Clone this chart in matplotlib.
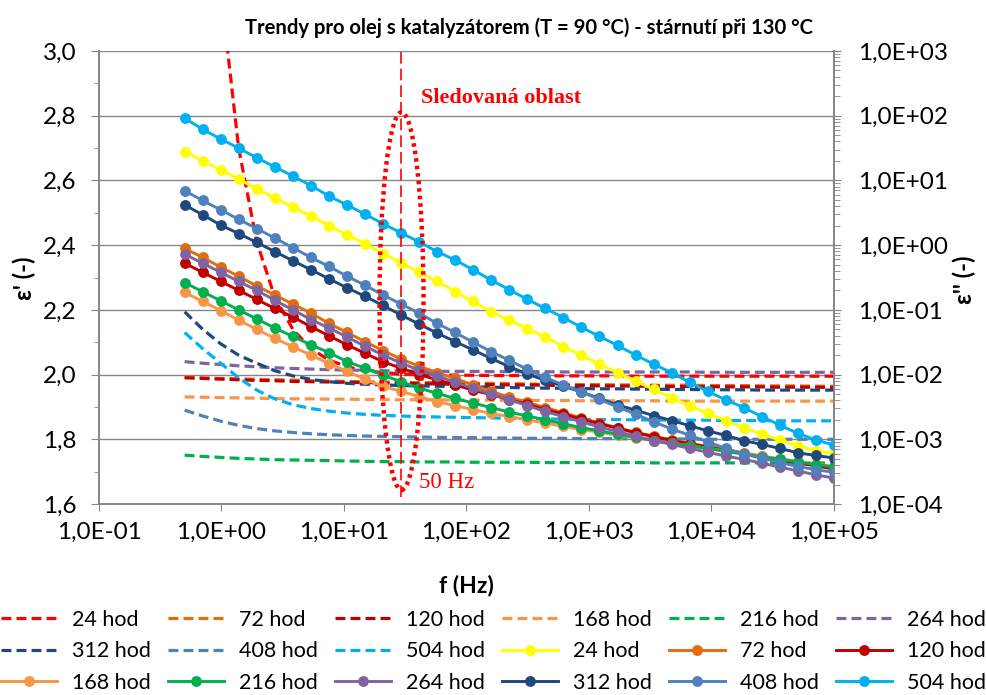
import numpy as np
import matplotlib
matplotlib.use('Agg')
import matplotlib.pyplot as plt
from matplotlib.patches import Ellipse
from matplotlib.ticker import MultipleLocator, FixedLocator, LogLocator, NullLocator, FuncFormatter

plt.rcParams['font.family'] = ['Lato', 'DejaVu Sans']

# měřicí frekvence (Hz)
freq_hz = [0.5, 0.702, 0.985, 1.38, 1.94, 2.72, 3.82, 5.37, 7.53, 10.6, 14.8, 20.8,
           29.2, 41.0, 57.6, 80.8, 113, 159, 224, 314, 440, 618, 868, 1218, 1709,
           2399, 3367, 4726, 6633, 9310, 13068, 18342, 25745, 36136, 50720, 71190, 100000]

hodiny = ['24 hod', '72 hod', '120 hod', '168 hod', '216 hod', '264 hod',
          '312 hod', '408 hod', '504 hod']

# eps' - reálná část permitivity (levá osa)
eps_24 = [5.43, 4.02, 3.19, 2.70, 2.41, 2.24, 2.14, 2.08, 2.045, 2.024, 2.012, 2.006,
          2.002, 2.000, 1.999, 1.998, 1.998, 1.997, 1.997, 1.997, 1.996, 1.996, 1.996,
          1.996, 1.996, 1.995, 1.995, 1.995, 1.995, 1.995, 1.995, 1.995, 1.995, 1.995,
          1.995, 1.995, 1.995]
eps_72 = [1.992, 1.990, 1.988, 1.987, 1.985, 1.984, 1.983, 1.981, 1.980, 1.979, 1.978,
          1.977, 1.976, 1.975, 1.975, 1.974, 1.973, 1.973, 1.972, 1.971, 1.970, 1.970,
          1.969, 1.969, 1.968, 1.968, 1.967, 1.967, 1.967, 1.966, 1.966, 1.966, 1.965,
          1.965, 1.965, 1.964, 1.964]
eps_120 = [1.990, 1.988, 1.986, 1.984, 1.982, 1.981, 1.979, 1.978, 1.977, 1.976, 1.975,
           1.974, 1.973, 1.972, 1.971, 1.970, 1.970, 1.969, 1.968, 1.968, 1.967, 1.966,
           1.966, 1.965, 1.965, 1.964, 1.964, 1.963, 1.963, 1.963, 1.962, 1.962, 1.962,
           1.961, 1.961, 1.961, 1.960]
eps_168 = [1.931, 1.930, 1.929, 1.928, 1.927, 1.926, 1.925, 1.925, 1.924, 1.924, 1.923,
           1.923, 1.922, 1.922, 1.922, 1.921, 1.921, 1.921, 1.920, 1.920, 1.920, 1.920,
           1.919, 1.919, 1.919, 1.919, 1.919, 1.918, 1.918, 1.918, 1.918, 1.918, 1.918,
           1.918, 1.918, 1.918, 1.918]
eps_216 = [1.751, 1.747, 1.744, 1.741, 1.739, 1.737, 1.736, 1.735, 1.734, 1.733, 1.732,
           1.731, 1.731, 1.730, 1.730, 1.730, 1.729, 1.729, 1.729, 1.729, 1.728, 1.728,
           1.728, 1.728, 1.728, 1.728, 1.727, 1.727, 1.727, 1.727, 1.727, 1.727, 1.727,
           1.727, 1.727, 1.727, 1.727]
eps_264 = [2.040, 2.035, 2.031, 2.027, 2.024, 2.021, 2.019, 2.017, 2.015, 2.014, 2.013,
           2.012, 2.011, 2.011, 2.010, 2.010, 2.010, 2.009, 2.009, 2.009, 2.009, 2.008,
           2.008, 2.008, 2.008, 2.008, 2.008, 2.008, 2.008, 2.007, 2.007, 2.007, 2.007,
           2.007, 2.007, 2.007, 2.007]
eps_312 = [2.194, 2.140, 2.095, 2.060, 2.035, 2.012, 1.996, 1.985, 1.978, 1.973, 1.970,
           1.968, 1.966, 1.965, 1.964, 1.963, 1.962, 1.961, 1.960, 1.959, 1.958, 1.958,
           1.957, 1.956, 1.956, 1.955, 1.955, 1.954, 1.954, 1.953, 1.953, 1.953, 1.952,
           1.952, 1.952, 1.952, 1.952]
eps_408 = [1.890, 1.872, 1.856, 1.843, 1.833, 1.826, 1.821, 1.817, 1.814, 1.812, 1.810,
           1.809, 1.808, 1.807, 1.806, 1.805, 1.805, 1.804, 1.804, 1.803, 1.803, 1.803,
           1.802, 1.802, 1.802, 1.801, 1.801, 1.801, 1.801, 1.800, 1.800, 1.800, 1.800,
           1.800, 1.800, 1.800, 1.800]
eps_504 = [2.130, 2.080, 2.035, 1.990, 1.952, 1.925, 1.907, 1.895, 1.887, 1.881, 1.877,
           1.874, 1.872, 1.870, 1.869, 1.868, 1.867, 1.866, 1.865, 1.864, 1.863, 1.862,
           1.862, 1.861, 1.861, 1.860, 1.860, 1.859, 1.859, 1.859, 1.858, 1.858, 1.858,
           1.857, 1.857, 1.857, 1.857]

# eps'' - ztrátové číslo (pravá osa, log)
epp_24 = [27.9, 20.0, 14.5, 10.5, 7.41, 5.37, 3.89, 2.82, 2.00, 1.45, 1.05, 0.741, 0.537,
          0.380, 0.275, 0.191, 0.135, 0.0933, 0.0692, 0.0513, 0.0380, 0.0269, 0.0200,
          0.0145, 0.0107, 0.00794, 0.00589, 0.00437, 0.00331, 0.00251, 0.00195, 0.00151,
          0.00120, 0.000977, 0.000794, 0.000661, 0.000603]
epp_72 = [0.891, 0.646, 0.457, 0.331, 0.234, 0.170, 0.123, 0.0891, 0.0617, 0.0447, 0.0324,
          0.0234, 0.0174, 0.0135, 0.0107, 0.00871, 0.00692, 0.00550, 0.00447, 0.00372,
          0.00309, 0.00257, 0.00214, 0.00178, 0.00151, 0.00129, 0.00112, 0.000977,
          0.000871, 0.000776, 0.000692, 0.000617, 0.000550, 0.000490, 0.000437, 0.000398,
          0.000355]
epp_120 = [0.525, 0.380, 0.275, 0.200, 0.145, 0.105, 0.0776, 0.0550, 0.0398, 0.0288,
           0.0214, 0.0158, 0.0126, 0.0100, 0.00832, 0.00692, 0.00575, 0.00490, 0.00407,
           0.00347, 0.00288, 0.00245, 0.00204, 0.00174, 0.00148, 0.00126, 0.00110,
           0.000955, 0.000851, 0.000759, 0.000676, 0.000603, 0.000537, 0.000479, 0.000427,
           0.000389, 0.000347]
epp_168 = [0.186, 0.135, 0.0977, 0.0692, 0.0501, 0.0363, 0.0269, 0.0200, 0.0148, 0.0112,
           0.00851, 0.00661, 0.00550, 0.00457, 0.00380, 0.00331, 0.00288, 0.00251, 0.00224,
           0.00200, 0.00178, 0.00158, 0.00141, 0.00129, 0.00115, 0.00105, 0.000955,
           0.000871, 0.000794, 0.000724, 0.000661, 0.000603, 0.000550, 0.000501, 0.000457,
           0.000417, 0.000380]
epp_216 = [0.263, 0.191, 0.138, 0.100, 0.0724, 0.0525, 0.0389, 0.0288, 0.0219, 0.0158,
           0.0126, 0.00977, 0.00776, 0.00617, 0.00513, 0.00427, 0.00363, 0.00309, 0.00263,
           0.00229, 0.00200, 0.00174, 0.00151, 0.00135, 0.00120, 0.00107, 0.000955,
           0.000871, 0.000794, 0.000724, 0.000646, 0.000589, 0.000537, 0.000490, 0.000447,
           0.000407, 0.000372]
epp_264 = [0.724, 0.525, 0.380, 0.275, 0.200, 0.141, 0.100, 0.0708, 0.0525, 0.0380, 0.0275,
           0.0200, 0.0151, 0.0117, 0.00955, 0.00759, 0.00617, 0.00501, 0.00407, 0.00331,
           0.00269, 0.00224, 0.00186, 0.00155, 0.00132, 0.00112, 0.000955, 0.000832,
           0.000724, 0.000631, 0.000550, 0.000490, 0.000427, 0.000372, 0.000324, 0.000282,
           0.000251]
epp_312 = [4.17, 2.95, 2.04, 1.51, 1.10, 0.794, 0.575, 0.417, 0.302, 0.219, 0.162, 0.117,
           0.0832, 0.0603, 0.0437, 0.0324, 0.0240, 0.0178, 0.0132, 0.0102, 0.00813, 0.00661,
           0.00537, 0.00427, 0.00339, 0.00282, 0.00232, 0.00195, 0.00162, 0.00135, 0.00115,
           0.000955, 0.000832, 0.000724, 0.000617, 0.000562, 0.000513]
epp_408 = [6.92, 4.90, 3.51, 2.51, 1.80, 1.29, 0.912, 0.646, 0.468, 0.331, 0.240, 0.170,
           0.123, 0.0891, 0.0617, 0.0447, 0.0316, 0.0226, 0.0166, 0.0120, 0.00902, 0.00692,
           0.00537, 0.00412, 0.00316, 0.00245, 0.00186, 0.00145, 0.00115, 0.000912,
           0.000724, 0.000589, 0.000513, 0.000437, 0.000380, 0.000339, 0.000309]
epp_504 = [91.2, 61.7, 43.7, 31.6, 22.4, 16.2, 11.7, 8.32, 5.75, 4.17, 3.02, 2.14, 1.55,
           1.12, 0.794, 0.589, 0.417, 0.288, 0.204, 0.145, 0.105, 0.0759, 0.0537, 0.0389,
           0.0282, 0.0200, 0.0145, 0.0107, 0.00759, 0.00550, 0.00407, 0.00309, 0.00224,
           0.00166, 0.00123, 0.000977, 0.000813]

f_sledovana = 29.2  # svislá čára ve sledované oblasti

x_ticks = [1e-1, 1e0, 1e1, 1e2, 1e3, 1e4, 1e5]
y2_ticks = [1e-4, 1e-3, 1e-2, 1e-1, 1e0, 1e1, 1e2, 1e3]

barvy_carkovane = ['#FF0000', '#E46C0A', '#C00000', '#F79646', '#00B050', '#8064A2',
                   '#1F497D', '#4F81BD', '#00B0F0']
barvy_plne = ['#FFFF00', '#E46C0A', '#C00000', '#F79646', '#00B050', '#8064A2',
              '#1F497D', '#4F81BD', '#00B0F0']

eps_serie = [eps_24, eps_72, eps_120, eps_168, eps_216, eps_264, eps_312, eps_408, eps_504]
epp_serie = [epp_24, epp_72, epp_120, epp_168, epp_216, epp_264, epp_312, epp_408, epp_504]

seda = '#868686'

fig = plt.figure(figsize=(9.87, 6.95), dpi=100)
ax = fig.add_axes([99 / 987, 1 - 504 / 695, 735 / 987, 453 / 695])
ax.set_xscale('log')
ax2 = ax.twinx()

h_car = []
for vals, c, lab in zip(eps_serie, barvy_carkovane, hodiny):
    l, = ax.plot(freq_hz, vals, color=c, lw=2.3, dashes=(3.1, 1.6), label=lab)
    h_car.append(l)

h_pln = []
for vals, c, lab in zip(epp_serie, barvy_plne, hodiny):
    l, = ax2.plot(freq_hz, vals, color=c, lw=2.1, marker='o', ms=6.8, label=lab)
    h_pln.append(l)

ax.set_xlim(0.1, 1e5)
ax.set_ylim(1.6, 3.0)
ax2.set_yscale('log')
ax2.set_ylim(1e-4, 1e3)

fmt_exp = FuncFormatter(lambda v, p: '1,0E{:+03d}'.format(int(round(np.log10(v)))))

ax.xaxis.set_major_locator(FixedLocator(x_ticks))
ax.xaxis.set_minor_locator(NullLocator())
ax.xaxis.set_major_formatter(fmt_exp)
ax.yaxis.set_major_locator(MultipleLocator(0.2))
ax.yaxis.set_minor_locator(MultipleLocator(0.1))
ax.yaxis.set_major_formatter(FuncFormatter(lambda v, p: f'{v:.1f}'.replace('.', ',')))

ax2.yaxis.set_major_locator(FixedLocator(y2_ticks))
ax2.yaxis.set_minor_locator(LogLocator(base=10, subs=np.arange(2, 10), numticks=12))
ax2.yaxis.set_major_formatter(fmt_exp)

ax.tick_params(axis='y', which='major', length=6, color=seda, labelsize=17.5, pad=10)
ax.tick_params(axis='y', which='minor', length=3.5, color=seda)
ax.tick_params(axis='x', which='major', length=5, color=seda, labelsize=17.5, pad=8)
ax2.tick_params(axis='y', which='major', length=5, color=seda, labelsize=17.5, pad=12)
ax2.tick_params(axis='y', which='minor', length=4, color=seda)

ax.grid(axis='y', which='major', color=seda, lw=1.0)
ax.set_axisbelow(True)
for a in (ax, ax2):
    a.spines['top'].set_visible(False)
    for s in ('left', 'right', 'bottom'):
        a.spines[s].set_color(seda)
        a.spines[s].set_linewidth(1.2)

# sledovaná oblast kolem 50 Hz
ax2.axvline(f_sledovana, ymin=0.015, ymax=1.0, color='red', lw=1.2, dashes=(7, 3), zorder=6)
ax2.add_patch(Ellipse((0.4116, 0.448), 0.0599, 0.834, transform=ax2.transAxes,
                      fill=False, edgecolor='red', lw=3.2, linestyle=(0, (0.8, 0.9)),
                      zorder=7))

fig.text(421 / 987, 1 - 98 / 695, 'Sledovaná oblast', color='red', fontweight='bold',
         family='Liberation Serif', fontsize=16, ha='left', va='center')
fig.text(419 / 987, 1 - 483 / 695, '50 Hz', color='red', family='Liberation Serif',
         fontsize=16.5, ha='left', va='center')

fig.text(529 / 987, 1 - 28 / 695, 'Trendy pro olej s katalyzátorem (T = 90 °C) - stárnutí při 130 °C',
         ha='center', va='center', fontsize=14.6, fontweight='bold')
fig.text(466 / 987, 1 - 585 / 695, 'f (Hz)', ha='center', va='center', fontsize=16.5,
         fontweight='bold')
fig.text(24 / 987, 1 - 278 / 695, "ε' (-)", ha='center', va='center', rotation=90,
         fontsize=17, fontweight='bold')
fig.text(964 / 987, 1 - 280 / 695, "ε'' (-)", ha='center', va='center', rotation=90,
         fontsize=17, fontweight='bold')

# legenda po řádcích (6 sloupců)
vsechny_h = h_car + h_pln
vsechny_l = hodiny + hodiny
poradi = [j + 6 * r for j in range(6) for r in range(3)]
fig.legend([vsechny_h[i] for i in poradi], [vsechny_l[i] for i in poradi],
           loc='lower center', bbox_to_anchor=(0.5, 0.0), ncol=6, frameon=False,
           fontsize=15.5, handlelength=2.6, handletextpad=0.7, columnspacing=0.8,
           labelspacing=0.53, borderaxespad=0.0, borderpad=0.1)

fig.savefig('out.png', dpi=100)
